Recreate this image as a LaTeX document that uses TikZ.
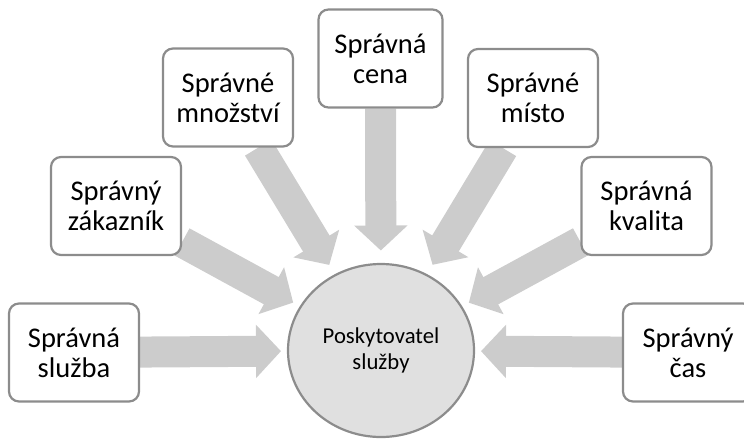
\documentclass[tikz,border=0pt]{standalone}
\usepackage{fontspec}
\setmainfont{Carlito}
\usetikzlibrary{arrows.meta,backgrounds,calc,shapes.geometric}
\definecolor{boxline}{RGB}{140,140,140}
\definecolor{arrowfill}{RGB}{204,204,204}
\definecolor{hubfill}{RGB}{224,224,224}

\begin{document}
\begin{tikzpicture}[x=1pt, y=-1pt, thick]

\tikzstyle{box}=[draw=boxline, line width=2.2pt, fill=white, rounded corners=10pt, minimum width=130pt, minimum height=98pt, inner sep=0pt, align=center, font=\fontsize{28.5}{30}\selectfont]
\tikzstyle{hubnode}=[ellipse, draw=boxline, line width=2.2pt, fill=hubfill, minimum width=186pt, minimum height=173pt, inner sep=0pt, align=center, font=\fontsize{22.7}{26}\selectfont]
\tikzstyle{fat}=[draw=arrowfill, line width=31pt, -{Triangle[width=52pt,length=25pt]}]

\useasboundingbox (0,0) rectangle (744,439);
\clip (0,0) rectangle (744,439);

\node[hubnode] (hub) at (381,350.5) {Poskytovatel\\služby};

\node[box] (sluzba)   at (74,352.5)  {Správná\\služba};
\node[box] (zakaznik) at (116,206)   {Správný\\zákazník};
\node[box] (mnozstvi) at (228,97.5)  {Správné\\množství};
\node[box, minimum width=124pt] (cena) at (380.5,58.5) {Správná\\cena};
\node[box] (misto)    at (533,98)    {Správné\\místo};
\node[box] (kvalita)  at (646.5,206) {Správná\\kvalita};
\node[box] (cas)      at (688,352.5) {Správný\\čas};

\begin{scope}[on background layer]
\foreach \b in {sluzba,zakaznik,mnozstvi,cena,misto,kvalita,cas}
   \draw[fat] (\b) -- ($(hub)!100pt!(\b)$);
\end{scope}
\end{tikzpicture}
\end{document}
